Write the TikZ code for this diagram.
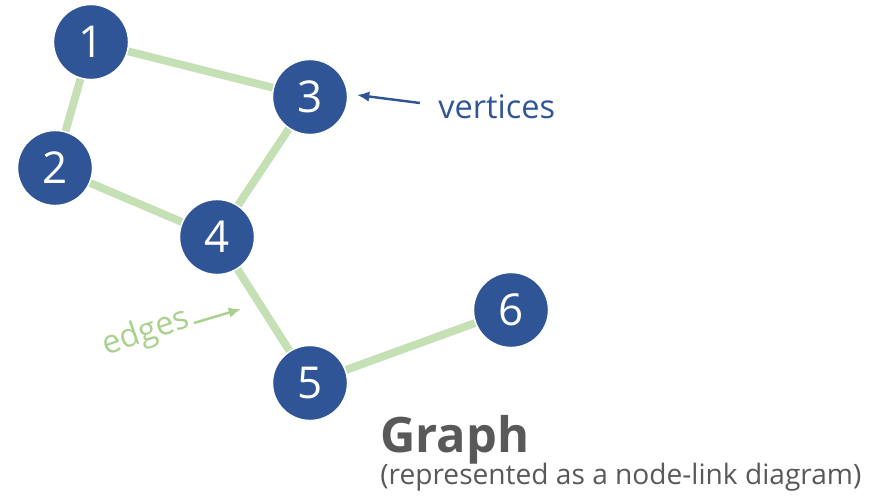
\documentclass[tikz,border=0pt]{standalone}
\usepackage{fontspec}
\setmainfont{Open Sans}
\usepackage{tikz}
\usetikzlibrary{backgrounds,arrows.meta}
\definecolor{vblue}{HTML}{2F5597}
\definecolor{egreen}{HTML}{C5E0B4}
\definecolor{lgreen}{HTML}{A9D18E}
\definecolor{tgray}{HTML}{595959}
\tikzset{
  vertex/.style={circle, fill=vblue, draw=white, line width=0.8pt, minimum size=1.5cm,
    inner sep=0pt, text=white, font=\fontsize{25}{25}\selectfont},
  edge/.style={egreen, line width=4.5pt},
  pointer/.style={line width=1.4pt, -{Latex[length=7pt,width=6pt]}},
}

\begin{document}
\begin{tikzpicture}[x=0.02cm, y=-0.02cm]
    \useasboundingbox (0,0) rectangle (886,497);

    % Vertices
    \node[vertex] (v1) at (91,42) {1};
    \node[vertex] (v2) at (55,168) {2};
    \node[vertex] (v3) at (310,97) {3};
    \node[vertex] (v4) at (217,237) {4};
    \node[vertex] (v5) at (310,383) {5};
    \node[vertex] (v6) at (511,310) {6};

    % Edges
    \begin{pgfonlayer}{background}
    \foreach \a/\b in {v1/v3, v1/v2, v2/v4, v3/v4, v4/v5, v5/v6}
        \draw[edge] (\a) -- (\b);
    \end{pgfonlayer}

    % Labels
    \node[text=vblue, anchor=west, inner sep=0pt, font=\fontsize{18.5}{18.5}\selectfont] (vlab) at (438,107) {vertices};
    \coordinate (vtail) at (420,103);
    \coordinate (vtip) at (357,95);
    \draw[vblue, pointer] (vtail) -- (vtip);

    \node[text=lgreen, rotate=19, inner sep=0pt, font=\fontsize{18.5}{18.5}\selectfont] (elab) at (146,333) {edges};
    \coordinate (etail) at (194,323);
    \coordinate (etip) at (241,309);
    \draw[lgreen, pointer] (etail) -- (etip);

    \node[text=tgray, anchor=base west, inner sep=0pt, font=\bfseries\fontsize{27.8}{27.8}\selectfont] (title) at (380,452) {Graph};
    \node[text=tgray, anchor=base west, inner sep=0pt, font=\fontsize{16}{16}\selectfont] (sub) at (380,484) {(represented as a node-link diagram)};
\end{tikzpicture}
\end{document}
